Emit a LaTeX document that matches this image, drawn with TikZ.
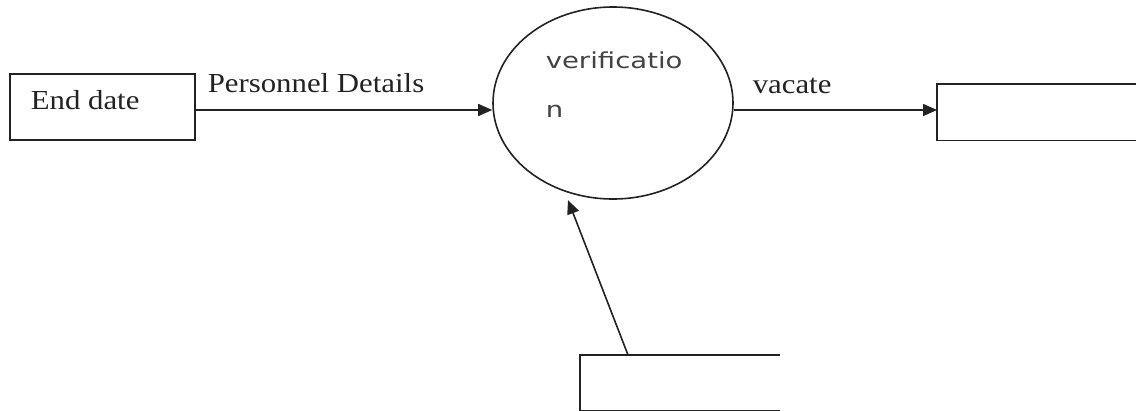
\documentclass[tikz,border=0pt]{standalone}
\usepackage{fontspec}
\usetikzlibrary{arrows.meta,shapes.geometric,calc}
\newfontfamily\lblfont[FakeStretch=1.12]{Liberation Serif}
\newfontfamily\vfont[FakeStretch=1.25]{DejaVu Sans}
\definecolor{ink}{HTML}{222222}
\begin{document}
\begin{tikzpicture}[x=1pt,y=-1pt,line width=1.6pt,draw=ink,
  lbl/.style={font=\lblfont\fontsize{27.5}{30}\selectfont,inner sep=0,anchor=base west,text=ink},
  vtext/.style={font=\vfont\fontsize{22}{24}\selectfont,inner sep=0,anchor=base west,text=ink!85},
  flow/.style={-{Triangle[length=14pt,width=12pt]},line width=1.6pt},
  boxnode/.style={rectangle,inner sep=0,anchor=north west}]
\useasboundingbox (0,0) rectangle (1136,410);
% external entity
\node[boxnode,draw,minimum width=185pt,minimum height=66pt] (ext) at (9,73) {};
\node[lbl] (extlbl) at (30,109) {End date};
% process
\node[ellipse,draw,minimum width=240pt,minimum height=192pt,inner sep=0] (proc) at (613,103) {};
\node[vtext] (p1) at (545,68) {verificatio};
\node[vtext] (p2) at (545,117) {n};
% data stores (open right side)
\node[boxnode,minimum width=199pt,minimum height=55pt] (ds1) at (937,84) {};
\draw (ds1.north east) -- (ds1.north west) -- (ds1.south west) -- (ds1.south east);
\node[boxnode,minimum width=198pt,minimum height=54pt] (ds2) at (580,355) {};
\draw (ds2.north east) -- (ds2.north west) -- (ds2.south west) -- (ds2.south east);
% flows
\coordinate (yline) at (0,110);
\draw[flow] (ext.east |- yline) -- (proc.west |- yline);
\node[lbl] (l1) at (207,92) {Personnel Details};
\draw[flow] (proc.east |- yline) -- (ds1.west |- yline);
\node[lbl] (l2) at (752,93) {vacate};
\coordinate (src) at ($(ds2.north west)+(48,0)$);
\coordinate (dst) at ($(proc.center)+(-45,97)$);
\draw[flow] (src) -- (dst);
\end{tikzpicture}
\end{document}
